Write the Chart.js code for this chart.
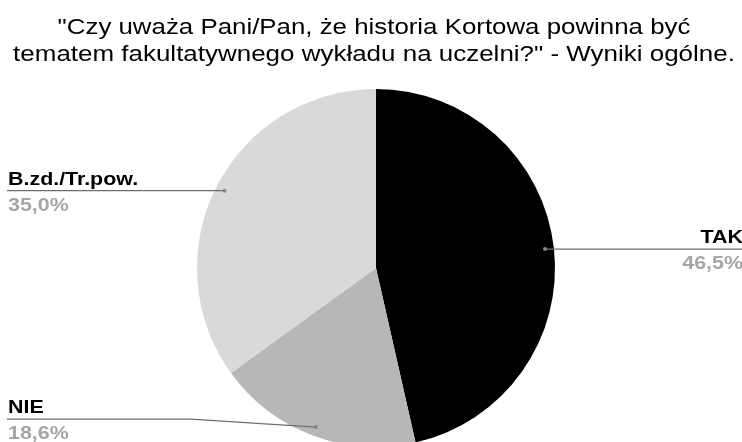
<!DOCTYPE html>
<html><head><meta charset="utf-8">
<script src="https://cdn.jsdelivr.net/npm/chart.js@4/dist/chart.umd.min.js"></script>
<style>
html,body{margin:0;padding:0;width:742px;height:442px;overflow:hidden;background:#fff;}
#wrap{position:absolute;left:0;top:0;width:742px;height:452px;}
</style></head><body>
<div id="wrap"><canvas id="c"></canvas></div>
<script>
const titleLines = ['"Czy uważa Pani/Pan, że historia Kortowa powinna być', 'tematem fakultatywnego wykładu na uczelni?" - Wyniki ogólne.'];
const categories = ['TAK', 'NIE', 'B.zd./Tr.pow.'];
const values = [46.5, 18.6, 35.0];
const valueLabels = ['46,5%', '18,6%', '35,0%'];
const colors = ['#000000', '#b7b7b7', '#d9d9d9'];

const FONT = '"Liberation Sans", Arial, sans-serif';
const SX = 1.19; // horizontal stretch of the text in the reference

function stretchedText(ctx, text, x, y, align, sx) {
  ctx.save();
  ctx.translate(x, y);
  ctx.scale(sx, 1);
  ctx.textAlign = align;
  ctx.textBaseline = 'alphabetic';
  ctx.fillText(text, 0, 0);
  ctx.restore();
}

const titlePlugin = {
  id: 'stretchTitle',
  afterDraw(chart) {
    const ctx = chart.ctx;
    ctx.save();
    ctx.fillStyle = '#000000';
    ctx.font = '22px ' + FONT;
    const cx = 374;
    stretchedText(ctx, titleLines[0], cx, 34, 'center', 1.175);
    stretchedText(ctx, titleLines[1], cx, 61, 'center', 1.18);
    ctx.restore();
  }
};

const leaderPlugin = {
  id: 'leaders',
  afterDatasetsDraw(chart) {
    const ctx = chart.ctx;
    const meta = chart.getDatasetMeta(0);
    const W = chart.width;
    ctx.save();
    meta.data.forEach((arc, i) => {
      const p = arc.getProps(['x','y','startAngle','endAngle','outerRadius'], true);
      const mid = (p.startAngle + p.endAngle) / 2;
      const r = p.outerRadius * 0.95;
      const dx = p.x + Math.cos(mid) * r;
      const dy = p.y + Math.sin(mid) * r;
      const right = Math.cos(mid) > 0;
      const bottomSide = Math.sin(mid) > 0.8;
      const ly = bottomSide ? dy - 8 : dy;
      ctx.strokeStyle = '#6f6f6f';
      ctx.lineWidth = 1.2;
      ctx.beginPath();
      ctx.moveTo(dx, dy);
      if (right) {
        ctx.lineTo(W, ly);
      } else {
        if (bottomSide) ctx.lineTo(dx - 125, ly);
        ctx.lineTo(7, ly);
      }
      ctx.stroke();
      ctx.fillStyle = '#8a8a8a';
      ctx.beginPath();
      ctx.arc(dx, dy, 2, 0, Math.PI * 2);
      ctx.fill();
      const align = right ? 'right' : 'left';
      const tx = right ? W + 1 : 8;
      ctx.font = 'bold 18px ' + FONT;
      ctx.fillStyle = '#000000';
      stretchedText(ctx, categories[i], tx, ly - 6, align, SX);
      ctx.fillStyle = '#a6a6a6';
      stretchedText(ctx, valueLabels[i], tx, ly + 20, align, SX);
    });
    ctx.restore();
  }
};

new Chart(document.getElementById('c'), {
  type: 'pie',
  data: {
    labels: categories,
    datasets: [{ data: values, backgroundColor: colors, borderWidth: 0 }]
  },
  options: {
    responsive: true,
    maintainAspectRatio: false,
    animation: false,
    layout: { padding: { left: 10, right: 0, top: 89, bottom: 5 } },
    plugins: {
      legend: { display: false },
      tooltip: { enabled: false },
      title: { display: false, text: titleLines }
    }
  },
  plugins: [leaderPlugin, titlePlugin]
});
</script>
</body></html>
